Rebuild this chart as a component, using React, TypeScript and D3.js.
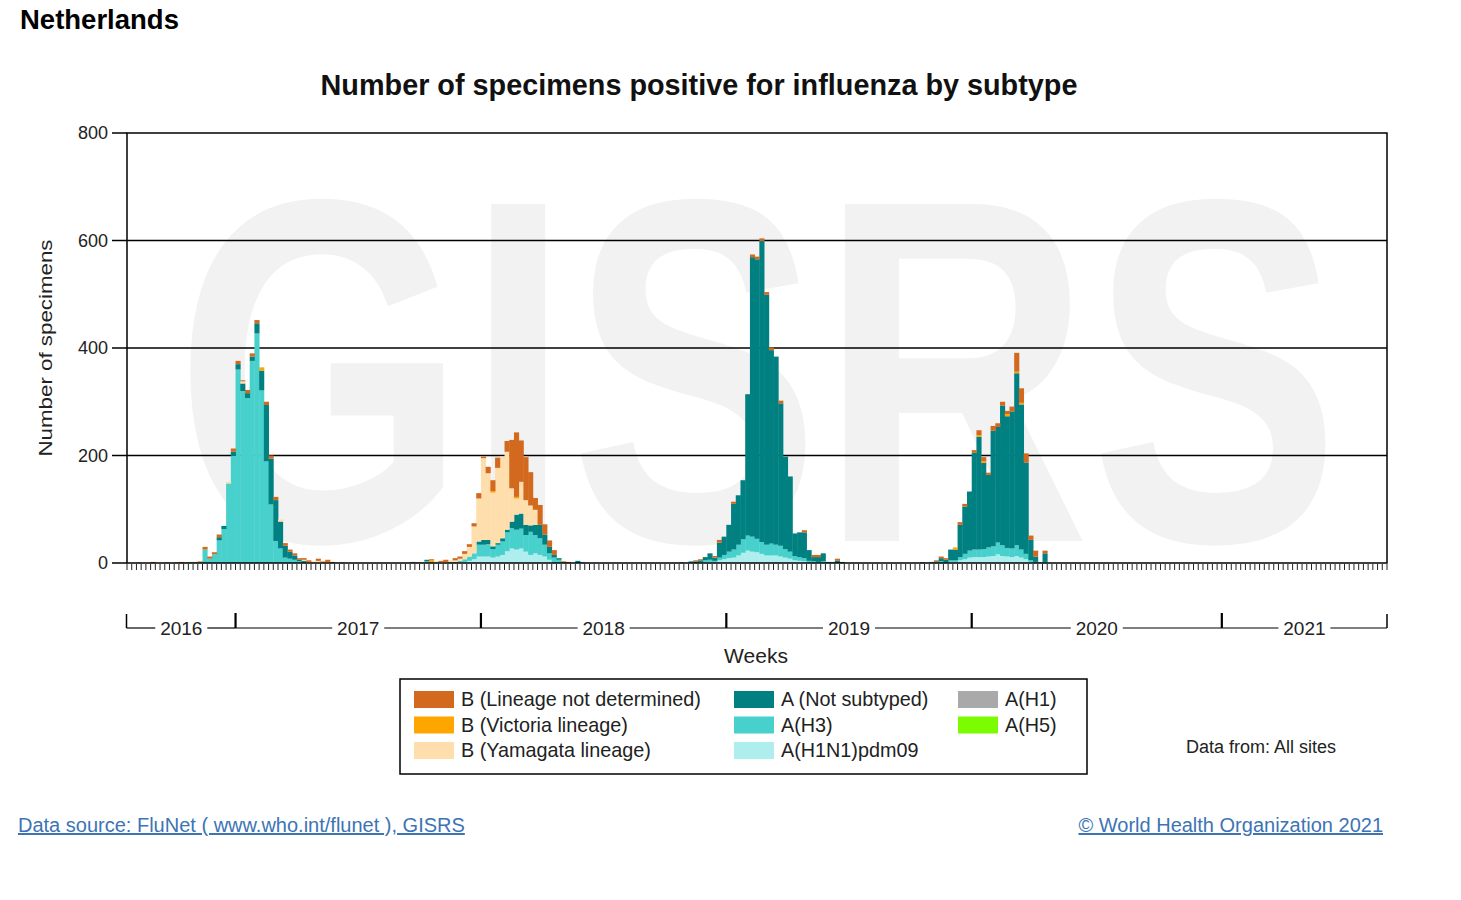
import React from 'react';
import * as d3 from 'd3';

// ---------- categories ----------
const YEARS = [2016, 2017, 2018, 2019, 2020, 2021];
const YEAR_FIRST_WEEK = [30, 1, 1, 1, 1, 1];
const YEAR_LAST_WEEK = [52, 52, 52, 52, 53, 35];
const Y_TICKS = [0, 200, 400, 600, 800];

// ---------- series values (weekly, starting 2016 week 30) ----------
const B_NOT_DETERMINED = [
  0,0,1,0,0,2,0,0,0,0, 1,2,1,0,1,1,5,4,4,5, 0,0,6,6,2,6,6,6,0,6, 6,6,0,5,4,4,3,3,3,0,
  4,1,4,2,0,1,0,0,0,0, 0,0,0,0,0,0,0,0,0,0, 0,1,0,0,2,0,2,4,0,4, 4,5,5,6,10,3,12,20,19,0,
  20,90,120,77,80,62,22,37,19,12, 9,0,3,2,0,0,0,0,0,0, 0,0,0,0,0,0,0,0,0,0, 0,0,0,0,0,0,0,0,0,0,
  2,2,0,0,3,5,0,0,4,0, 0,0,5,5,5,5,5,0,5,0, 0,0,0,4,0,4,4,0,0,0, 4,0,0,0,0,0,0,0,0,0,
  0,0,0,0,0,0,0,0,0,0, 0,2,3,3,0,0,5,5,0,5, 9,8,4,9,7,7,6,9,35,27, 17,8,11,0,5,
];
const B_VICTORIA = [
  0,0,0,0,0,0,0,0,0,0, 0,0,0,0,0,0,0,0,0,0, 0,0,0,0,0,0,0,0,6,0, 0,0,0,0,0,0,0,0,0,0,
  0,0,0,0,0,0,0,0,0,0, 0,0,0,0,0,0,0,0,0,0, 0,0,0,0,5,0,0,0,0,0, 0,0,0,0,0,0,0,3,0,0,
  0,0,3,0,0,0,0,0,0,0, 0,0,0,0,0,0,0,0,0,0, 0,0,0,0,0,0,0,0,0,0, 0,0,0,0,0,0,0,0,0,0,
  0,0,0,0,0,0,0,0,0,0, 0,0,0,0,0,0,0,0,0,0, 0,0,0,0,0,0,0,0,0,0, 0,0,0,0,0,0,0,0,0,0,
  0,0,0,0,0,0,0,0,0,0, 0,0,0,0,0,4,0,0,0,0, 3,3,0,0,0,0,4,0,3,3, 0,0,0,0,0,
];
const B_YAMAGATA = [
  0,0,0,0,0,0,0,0,0,0, 0,0,0,0,0,0,0,0,0,0, 0,3,0,0,4,0,0,0,0,0, 0,0,4,0,0,0,0,2,2,3,
  4,2,2,0,0,0,0,0,0,0, 0,0,0,0,0,0,0,0,0,0, 0,0,1,0,0,2,2,2,3,3, 4,10,18,50,80,152,124,100,140,152,
  145,62,30,59,46,37,28,0,0,0, 0,0,0,0,0,0,0,0,0,0, 0,0,0,0,0,0,0,0,0,0, 0,0,0,0,0,0,0,0,0,0,
  0,0,0,0,0,0,0,0,0,0, 0,0,0,0,0,0,0,0,0,0, 0,0,0,0,0,0,0,0,0,0, 0,0,0,0,0,0,0,0,0,0,
  0,0,0,0,0,0,0,0,0,0, 0,0,0,0,0,0,0,0,0,0, 0,0,0,0,0,0,0,0,0,0, 0,0,0,0,0,
];
const A_NOT_SUBTYPED = [
  0,0,0,0,0,0,0,0,0,0, 0,0,0,0,0,0,0,0,0,6, 6,0,8,10,14,9,8,19,37,105, 85,76,50,22,13,8,3,2,0,0,
  0,0,0,0,0,0,0,0,0,0, 0,0,0,0,0,0,0,0,0,0, 1,0,0,3,0,0,0,0,0,0, 0,0,0,0,6,9,8,5,3,6,
  5,12,28,28,19,12,19,25,19,12, 5,3,0,0,0,4,1,0,0,0, 0,0,0,0,0,0,0,0,0,0, 0,0,0,0,0,0,0,1,0,2,
  3,3,6,12,6,28,34,50,85,92, 110,263,520,520,560,465,360,350,265,172, 140,42,46,48,20,8,9,15,2,1, 4,2,0,0,0,0,0,0,0,0,
  0,0,0,0,0,0,0,0,1,0, 1,2,6,5,20,20,60,88,110,180, 210,160,135,215,215,260,245,255,320,270, 170,38,10,1,16,
];
const A_H3 = [
  0,0,0,0,0,0,0,0,1,0, 0,0,0,2,1,2,25,8,16,42, 63,148,199,360,320,307,376,427,321,189, 109,41,27,10,8,6,3,2,0,0,
  0,0,0,0,0,0,0,0,0,0, 0,0,0,0,0,0,0,0,0,0, 1,0,1,3,0,1,0,0,2,2, 3,5,8,11,22,22,23,16,22,25,
  35,38,37,37,31,43,34,31,22,12, 10,6,0,0,0,0,0,0,0,0, 0,0,0,0,0,0,0,0,0,0, 0,0,0,0,0,0,0,0,0,1,
  0,2,3,4,3,5,8,12,15,20, 25,28,28,25,22,20,22,20,20,16, 13,8,7,6,4,3,2,3,0,1, 0,0,0,0,0,0,0,0,0,0,
  0,0,0,0,0,0,0,0,0,0, 1,1,3,1,3,3,6,10,13,14, 14,15,17,18,22,20,16,16,20,15, 10,3,2,0,2,
];
const A_H1N1PDM09 = [
  0,0,0,0,0,0,0,0,0,0, 0,0,0,0,0,0,0,0,0,0, 0,0,0,0,0,0,0,0,0,0, 0,0,0,0,0,0,0,0,0,0,
  0,0,0,0,0,0,0,0,0,0, 0,0,0,0,0,0,0,0,0,0, 0,0,0,0,0,0,0,0,0,0, 1,2,4,7,12,12,12,10,12,15,
  22,27,25,27,21,15,18,15,12,6, 0,0,0,0,0,0,0,0,0,0, 0,0,0,0,0,0,0,0,0,0, 0,0,0,0,0,0,0,0,0,0,
  0,0,2,2,1,5,7,9,10,14, 19,23,21,20,17,14,14,14,12,10, 8,5,4,3,0,0,0,0,0,0, 0,0,0,0,0,0,0,0,0,0,
  0,0,0,0,0,0,0,0,0,0, 0,0,0,0,2,2,5,7,10,11, 11,11,12,13,16,13,12,11,13,10, 7,2,0,0,0,
];
const A_H1: number[] = [];
const A_H5: number[] = [];

// stacking order bottom -> top
const SERIES = [
  { key: 'h1n1', label: 'A(H1N1)pdm09', color: '#AFEEEE', values: A_H1N1PDM09 },
  { key: 'h1', label: 'A(H1)', color: '#A9A9A9', values: A_H1 },
  { key: 'h3', label: 'A(H3)', color: '#48D1CC', values: A_H3 },
  { key: 'h5', label: 'A(H5)', color: '#7CFC00', values: A_H5 },
  { key: 'ans', label: 'A (Not subtyped)', color: '#008080', values: A_NOT_SUBTYPED },
  { key: 'yam', label: 'B (Yamagata lineage)', color: '#FFDEAD', values: B_YAMAGATA },
  { key: 'vic', label: 'B (Victoria lineage)', color: '#FFA500', values: B_VICTORIA },
  { key: 'bnd', label: 'B (Lineage not determined)', color: '#D2691E', values: B_NOT_DETERMINED },
];
const LEGEND_COLUMNS = [
  ['bnd', 'vic', 'yam'],
  ['ans', 'h3', 'h1n1'],
  ['h1', 'h5'],
];

const FONT = '"Liberation Sans", Arial, Helvetica, sans-serif';

export default function App() {
  const W = 1461, H = 900;
  const left = 127, right = 1387, top = 133, bottom = 563;

  const weeks: string[] = [];
  YEARS.forEach((yr, i) => {
    for (let w = YEAR_FIRST_WEEK[i]; w <= YEAR_LAST_WEEK[i]; w++) weeks.push(`${yr}-${w}`);
  });

  const x = d3.scaleBand<string>().domain(weeks).range([left, right]).padding(0);
  const y = d3.scaleLinear().domain([0, 800]).range([bottom, top]);
  const bw = x.bandwidth();

  const rows = weeks.map((wk, i) => {
    const r: any = { week: wk };
    SERIES.forEach((s) => (r[s.key] = s.values[i] ?? 0));
    return r;
  });
  const stacked = d3.stack<any>().keys(SERIES.map((s) => s.key))(rows);
  const colorOf: Record<string, string> = {};
  const labelOf: Record<string, string> = {};
  SERIES.forEach((s) => { colorOf[s.key] = s.color; labelOf[s.key] = s.label; });

  const yearSpans = YEARS.map((yr, i) => {
    const x0 = x(`${yr}-${YEAR_FIRST_WEEK[i]}`)!;
    const x1 = x(`${yr}-${YEAR_LAST_WEEK[i]}`)! + bw;
    return { yr, x0, x1 };
  });

  const tickPositions = d3.range(weeks.length + 1).map((i) => left + i * bw);

  return (
    <svg width={W} height={H} style={{ position: 'absolute', left: 0, top: 0, background: '#fff' }}
      fontFamily={FONT}>
      <rect x={0} y={0} width={W} height={H} fill="#fff" />

      {/* watermark, clipped to the plot area */}
      <defs>
        <clipPath id="plotClip">
          <rect x={left} y={top} width={right - left} height={bottom - top} />
        </clipPath>
      </defs>
      <g clipPath="url(#plotClip)">
        <text x={175} y={541} fontSize={490} fontWeight="bold" fill="#f2f2f2"
          textLength={1165} lengthAdjust="spacingAndGlyphs">GISRS</text>
      </g>

      <text x={20} y={29} fontSize={27.5} fontWeight="bold" fill="#000">Netherlands</text>
      <text x={699} y={95} fontSize={28.8} fontWeight="bold" textAnchor="middle" fill="#111">
        Number of specimens positive for influenza by subtype
      </text>

      {/* gridlines */}
      {Y_TICKS.filter((t) => t > 0 && t < 800).map((t) => (
        <line key={'g' + t} x1={left} x2={right} y1={y(t)} y2={y(t)} stroke="#000" strokeWidth={1.5} />
      ))}

      {/* bars */}
      {stacked.map((layer) => (
        <g key={layer.key} fill={colorOf[layer.key]}>
          {layer.map((d, i) => {
            const h = y(d[0]) - y(d[1]);
            if (h <= 0) return null;
            return (
              <rect key={i} x={x(weeks[i])!} y={y(d[1])} width={bw + 0.4} height={h} />
            );
          })}
        </g>
      ))}

      {/* frame */}
      <rect x={left} y={top} width={right - left} height={bottom - top} fill="none" stroke="#000" strokeWidth={1.5} />

      {/* y axis ticks */}
      {Y_TICKS.map((t) => (
        <g key={'yt' + t}>
          <line x1={112} x2={left} y1={y(t)} y2={y(t)} stroke="#000" strokeWidth={1.5} />
          <text x={108} y={y(t)} dy="0.35em" fontSize={18} textAnchor="end" fill="#222">{t}</text>
        </g>
      ))}
      <text transform={`translate(52,${(top + bottom) / 2}) rotate(-90)`} fontSize={19} textAnchor="middle"
        fill="#222" textLength={217} lengthAdjust="spacingAndGlyphs">Number of specimens</text>

      {/* weekly ticks */}
      {tickPositions.map((px, i) => (
        <line key={'wt' + i} x1={px} x2={px} y1={bottom + 1} y2={bottom + 7} stroke="#222" strokeWidth={1} />
      ))}

      {/* year bracket */}
      {yearSpans.map((s, i) => {
        const cx = (s.x0 + s.x1) / 2;
        const half = 26;
        const lx0 = i === 0 ? left - 0.5 : s.x0;
        const lx1 = i === yearSpans.length - 1 ? right : s.x1;
        return (
          <g key={'yl' + s.yr}>
            <line x1={lx0} x2={cx - half} y1={628} y2={628} stroke="#000" strokeWidth={1.2} />
            <line x1={cx + half} x2={lx1} y1={628} y2={628} stroke="#000" strokeWidth={1.2} />
            <text x={cx} y={635} fontSize={19} textAnchor="middle" fill="#222">{s.yr}</text>
          </g>
        );
      })}
      <line x1={left - 0.5} x2={left - 0.5} y1={614} y2={628} stroke="#000" strokeWidth={1.5} />
      <line x1={right} x2={right} y1={614} y2={628} stroke="#000" strokeWidth={1.5} />
      {yearSpans.slice(1).map((s) => (
        <line key={'yb' + s.yr} x1={s.x0} x2={s.x0} y1={613} y2={628} stroke="#000" strokeWidth={2.2} />
      ))}
      <text x={756} y={663} fontSize={21} textAnchor="middle" fill="#222">Weeks</text>

      {/* legend */}
      <rect x={400} y={679} width={687} height={95} fill="#fff" stroke="#000" strokeWidth={1.5} />
      {LEGEND_COLUMNS.map((col, ci) =>
        col.map((key, ri) => {
          const sx = [414, 734, 958][ci];
          const sy = 691 + ri * 25.5;
          return (
            <g key={key}>
              <rect x={sx} y={sy} width={40} height={17} fill={colorOf[key]} />
              <text x={sx + 47} y={sy + 15} fontSize={19.8} fill="#222">{labelOf[key]}</text>
            </g>
          );
        })
      )}
      <text x={1186} y={753} fontSize={18} fill="#222">Data from: All sites</text>

      {/* footer */}
      <text x={18} y={832} fontSize={20} fill="#3c74b4" textDecoration="underline">
        Data source: FluNet ( www.who.int/flunet ), GISRS
      </text>
      <text x={1383} y={832} fontSize={20} fill="#3c74b4" textAnchor="end" textDecoration="underline">
        © World Health Organization 2021
      </text>
    </svg>
  );
}
